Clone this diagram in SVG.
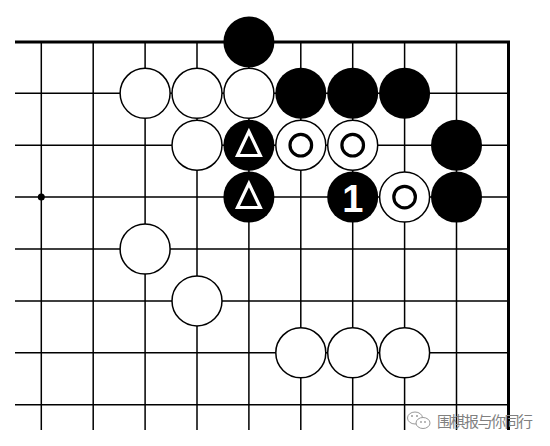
<svg xmlns="http://www.w3.org/2000/svg" width="550" height="446" viewBox="0 0 550 446">
<style>
.g{stroke:#000;stroke-width:1.5;fill:none}
.e{stroke:#000;stroke-width:3;fill:none}
.b{fill:#000}
.w{fill:#fff;stroke:#000;stroke-width:1.5}
.tri{fill:none;stroke:#fff;stroke-width:3.2;stroke-linejoin:miter}
.cm{fill:none;stroke:#000;stroke-width:3.2}
.num{font-family:"Liberation Sans",Arial,sans-serif;font-weight:bold;font-size:38px;fill:#fff;text-anchor:middle}
.wm{font-family:"Noto Sans CJK SC","Noto Sans",sans-serif;font-size:15px;fill:#808080}
</style>
<rect width="550" height="446" fill="#fff"/>
<g id="grid">
<path class="g" d="M15,93.3H508M15,145.2H508M15,197.1H508M15,249H508M15,300.9H508M15,352.8H508M15,404.7H508"/>
<path class="g" d="M41.3,42V430M93.2,42V430M145.1,42V430M197,42V430M248.9,42V430M300.8,42V430M352.7,42V430M404.6,42V430M456.5,42V430"/>
<path class="e" d="M15,42H508.5V430"/>
<circle cx="41.3" cy="197.1" r="3.5" class="b"/>
</g>
<g id="b-4-0"><circle cx="248.9" cy="42" r="25.5" class="b"/></g>
<g id="w-2-1"><circle cx="145.1" cy="93.3" r="25" class="w"/></g>
<g id="w-3-1"><circle cx="197" cy="93.3" r="25" class="w"/></g>
<g id="w-4-1"><circle cx="248.9" cy="93.3" r="25" class="w"/></g>
<g id="b-5-1"><circle cx="300.8" cy="93.3" r="25.5" class="b"/></g>
<g id="b-6-1"><circle cx="352.7" cy="93.3" r="25.5" class="b"/></g>
<g id="b-7-1"><circle cx="404.6" cy="93.3" r="25.5" class="b"/></g>
<g id="w-3-2"><circle cx="197" cy="145.2" r="25" class="w"/></g>
<g id="b-4-2"><circle cx="248.9" cy="145.2" r="25.5" class="b"/><path class="tri" d="M248.9,131.5L237.5,155.5H260.3Z"/></g>
<g id="w-5-2"><circle cx="300.8" cy="145.2" r="25" class="w"/><circle cx="300.8" cy="145.2" r="10.8" class="cm"/></g>
<g id="w-6-2"><circle cx="352.7" cy="145.2" r="25" class="w"/><circle cx="352.7" cy="145.2" r="10.8" class="cm"/></g>
<g id="b-8-2"><circle cx="456.5" cy="145.2" r="25.5" class="b"/></g>
<g id="b-4-3"><circle cx="248.9" cy="197.1" r="25.5" class="b"/><path class="tri" d="M248.9,183.5L237.5,207.5H260.3Z"/></g>
<g id="b-6-3"><circle cx="352.7" cy="197.1" r="25.5" class="b"/><text class="num" x="352.7" y="211.5">1</text></g>
<g id="w-7-3"><circle cx="404.6" cy="197.1" r="25" class="w"/><circle cx="404.6" cy="197.1" r="10.8" class="cm"/></g>
<g id="b-8-3"><circle cx="456.5" cy="197.1" r="25.5" class="b"/></g>
<g id="w-2-4"><circle cx="145.1" cy="249" r="25" class="w"/></g>
<g id="w-3-5"><circle cx="197" cy="300.9" r="25" class="w"/></g>
<g id="w-5-6"><circle cx="300.8" cy="352.8" r="25" class="w"/></g>
<g id="w-6-6"><circle cx="352.7" cy="352.8" r="25" class="w"/></g>
<g id="w-7-6"><circle cx="404.6" cy="352.8" r="25" class="w"/></g>
<g id="watermark">
<g fill="#fff" stroke="#9a9a9a" stroke-width="1">
<ellipse cx="415" cy="418" rx="7.5" ry="6"/>
<ellipse cx="423" cy="423" rx="7" ry="5.5"/>
</g>
<g fill="#9a9a9a"><circle cx="412" cy="416" r="1"/><circle cx="417" cy="416" r="1"/><circle cx="421" cy="422" r="0.9"/><circle cx="425" cy="422" r="0.9"/></g>
<text class="wm" x="437" y="426.5" textLength="96">围棋报与你同行</text>
</g>
</svg>
